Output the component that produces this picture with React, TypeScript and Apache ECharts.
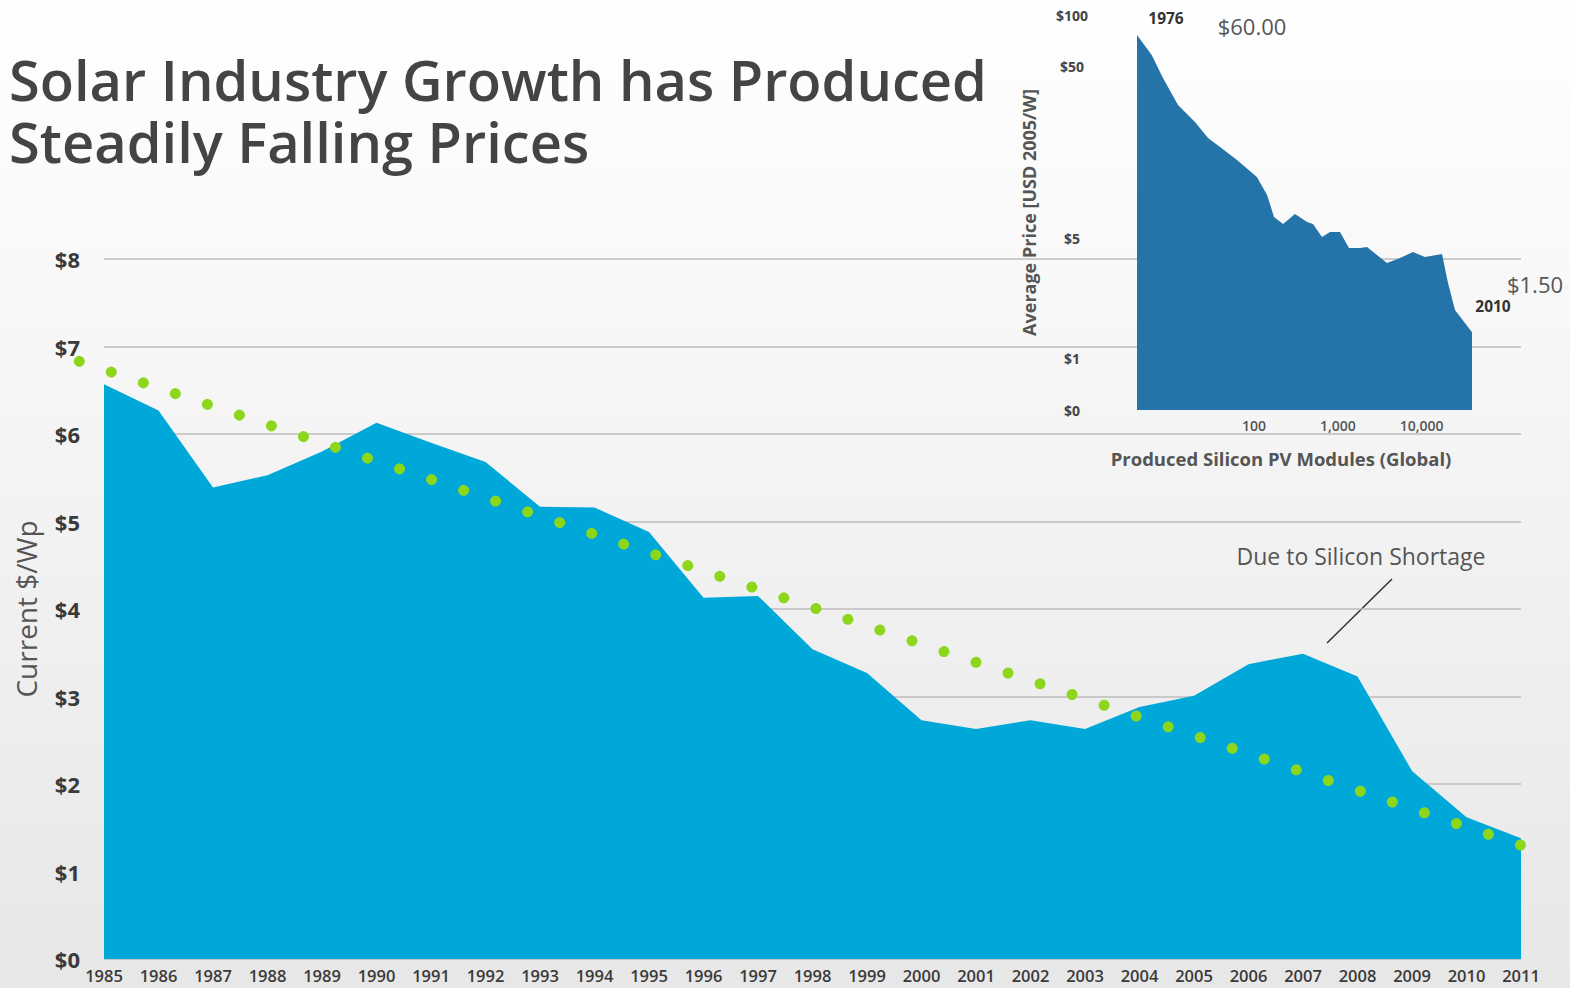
import React, { useEffect, useRef } from 'react';
import * as echarts from 'echarts';

const titleLines = ['Solar Industry Growth has Produced', 'Steadily Falling Prices'];

const years = [1985, 1986, 1987, 1988, 1989, 1990, 1991, 1992, 1993, 1994, 1995, 1996, 1997, 1998, 1999, 2000, 2001, 2002, 2003, 2004, 2005, 2006, 2007, 2008, 2009, 2010, 2011];
const modulePrice = [6.57, 6.27, 5.39, 5.53, 5.8, 6.13, 5.9, 5.68, 5.17, 5.16, 4.88, 4.13, 4.15, 3.54, 3.27, 2.73, 2.63, 2.73, 2.63, 2.88, 3.01, 3.37, 3.49, 3.23, 2.15, 1.62, 1.38];

// dotted trend line (start sits a little before 1985)
const trendYears = [1984.55, 2011];
const trendPrice = [6.83, 1.3];

const yTicks = [0, 1, 2, 3, 4, 5, 6, 7, 8];

// inset: experience curve (log-log)
const insetVolume = [4, 5.99, 8.17, 12.35, 19.7, 28.2, 39.2, 62.5, 108, 143, 173, 222, 308, 429, 505, 647, 806, 1061, 1359, 1839, 2230, 3865, 5525, 7899, 10985, 17530, 20680, 25060, 40000];
const insetPrice = [76.5, 58.5, 42.9, 29.9, 23.8, 19.2, 17.0, 14.3, 11.4, 8.94, 6.66, 6.06, 6.93, 6.22, 6.06, 5.09, 5.44, 5.44, 4.39, 4.39, 4.45, 3.59, 3.84, 4.16, 3.89, 4.05, 2.75, 1.91, 1.42];
const insetXTicks = [100, 1000, 10000];
const insetYTicks = [0.5, 1, 5, 50, 100];
const insetYTickLabels = ['$0', '$1', '$5', '$50', '$100'];

const FONT = 'Open Sans';

export default function App() {
  const ref = useRef<HTMLDivElement>(null);
  useEffect(() => {
    document.body.style.margin = '0';
    document.body.style.overflow = 'hidden';
    const chart = echarts.init(ref.current!, null, { renderer: 'svg' });
    const hiddenAxis = {
      axisLine: { show: false }, axisTick: { show: false }, splitLine: { show: false }, axisLabel: { show: false },
    };
    const option: any = {
      animation: false,
      backgroundColor: {
        type: 'linear', x: 0, y: 0, x2: 0, y2: 1,
        colorStops: [
          { offset: 0, color: '#ffffff' },
          { offset: 0.5, color: '#f3f3f3' },
          { offset: 1, color: '#e7e7e7' },
        ],
      },
      title: [
        {
          text: titleLines[0],
          left: 4,
          top: 44,
          textStyle: { fontFamily: FONT, fontSize: 56, fontWeight: 600, color: '#444444', lineHeight: 60 },
        },
        {
          text: titleLines[1],
          left: 4,
          top: 106,
          textStyle: { fontFamily: FONT, fontSize: 56, fontWeight: 600, color: '#444444', lineHeight: 60 },
        },
      ],
      grid: [
        { left: 104, right: 49, top: 259, bottom: 29 },
        { left: 1137, width: 335, top: 15, height: 395 },
        { left: 79.3, right: 49, top: 259, bottom: 29 },
      ],
      xAxis: [
        {
          type: 'value', gridIndex: 0, min: 1985, max: 2011, interval: 1,
          axisLine: { show: false }, axisTick: { show: false }, splitLine: { show: false },
          axisLabel: { formatter: (v: number) => String(v), fontFamily: FONT, fontSize: 16.5, fontWeight: 600, color: '#3a3a3a', margin: 8 },
        },
        {
          type: 'log', gridIndex: 1, min: 4, max: 40000, logBase: 10,
          axisLine: { show: false }, axisTick: { show: false }, splitLine: { show: false },
          axisLabel: {
            customValues: insetXTicks,
            formatter: (v: number) => Math.round(v).toLocaleString('en-US'),
            fontFamily: FONT, fontSize: 14, fontWeight: 600, color: '#555555', margin: 8,
          },
        },
        { type: 'value', gridIndex: 2, min: trendYears[0], max: 2011, ...hiddenAxis },
      ],
      yAxis: [
        {
          type: 'value', gridIndex: 0, min: 0, max: 8, interval: 1,
          name: 'Current $/Wp', nameLocation: 'middle', nameGap: 64, nameRotate: 90,
          nameTextStyle: { fontFamily: FONT, fontSize: 28, color: '#555555' },
          axisLine: { show: false }, axisTick: { show: false },
          splitLine: { lineStyle: { color: '#bdbdbd', width: 1.5 } },
          axisLabel: {
            customValues: yTicks,
            formatter: (v: number) => '$' + v, fontFamily: FONT, fontSize: 22, fontWeight: 700, color: '#3a3a3a', margin: 24,
          },
        },
        {
          type: 'log', gridIndex: 1, min: 0.5, max: 100, logBase: 10,
          name: 'Average Price [USD 2005/W]', nameLocation: 'middle', nameGap: 99, nameRotate: 90,
          nameTextStyle: { fontFamily: FONT, fontSize: 18, fontWeight: 700, color: '#555555' },
          axisLine: { show: false }, axisTick: { show: false }, splitLine: { show: false },
          axisLabel: {
            customValues: insetYTicks,
            formatter: (v: number) => {
              const i = insetYTicks.findIndex((t) => Math.abs(t - v) < 1e-6 * Math.max(1, t));
              return i >= 0 ? insetYTickLabels[i] : '';
            },
            align: 'center', margin: 65,
            fontFamily: FONT, fontSize: 14, fontWeight: 700, color: '#444444',
          },
        },
        { type: 'value', gridIndex: 2, min: 0, max: 8, ...hiddenAxis },
      ],
      series: [
        {
          type: 'line', xAxisIndex: 0, yAxisIndex: 0,
          data: years.map((y, i) => [y, modulePrice[i]]),
          symbol: 'none', lineStyle: { width: 0 },
          areaStyle: { color: '#00a8d9', opacity: 1, origin: 'start' },
          z: 2,
        },
        {
          type: 'line', xAxisIndex: 2, yAxisIndex: 2, clip: false,
          data: trendYears.map((y, i) => [y, trendPrice[i]]),
          symbol: 'none',
          lineStyle: { color: '#8cd61c', width: 11, type: [0.01, 33.77], cap: 'round' },
          z: 3,
        },
        {
          type: 'line', xAxisIndex: 1, yAxisIndex: 1,
          data: insetVolume.map((v, i) => [v, insetPrice[i]]),
          symbol: 'none', lineStyle: { width: 0 },
          areaStyle: { color: '#2474aa', opacity: 1, origin: 'start' },
          z: 2,
        },
      ],
      graphic: [
        {
          type: 'text', x: 1361, y: 556,
          style: { text: 'Due to Silicon Shortage', font: `400 23px "${FONT}"`, fill: '#555555', align: 'center', verticalAlign: 'middle' },
        },
        { type: 'line', shape: { x1: 1392, y1: 579, x2: 1327, y2: 643 }, style: { stroke: '#333333', lineWidth: 1.5 } },
        {
          type: 'text', x: 1281, y: 458,
          style: { text: 'Produced Silicon PV Modules (Global)', font: `700 18.5px "${FONT}"`, fill: '#555555', align: 'center', verticalAlign: 'middle' },
        },
        { type: 'text', x: 1166, y: 18, style: { text: '1976', font: `700 15.5px "${FONT}"`, fill: '#333333', align: 'center', verticalAlign: 'middle' } },
        { type: 'text', x: 1252, y: 26, style: { text: '$60.00', font: `400 22px "${FONT}"`, fill: '#555555', align: 'center', verticalAlign: 'middle' } },
        { type: 'text', x: 1535, y: 284, style: { text: '$1.50', font: `400 22px "${FONT}"`, fill: '#555555', align: 'center', verticalAlign: 'middle' } },
        { type: 'text', x: 1493, y: 306, style: { text: '2010', font: `700 15.5px "${FONT}"`, fill: '#333333', align: 'center', verticalAlign: 'middle' } },
      ],
    };
    chart.setOption(option);
    return () => chart.dispose();
  }, []);
  return <div ref={ref} style={{ width: 1570, height: 988 }} />;
}
